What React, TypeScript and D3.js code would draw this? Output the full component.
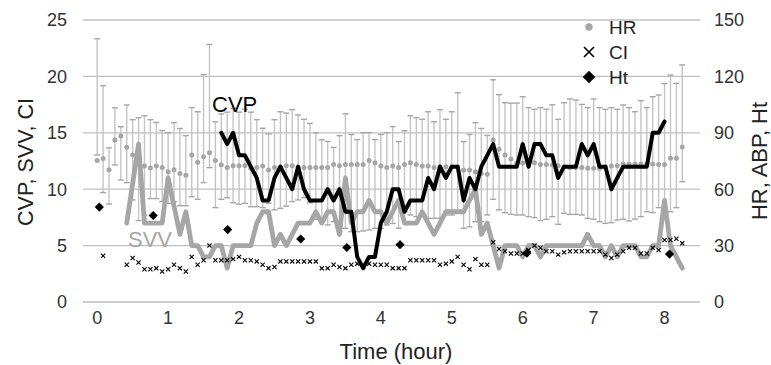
import React from "react";
import * as d3 from "d3";

// 5-minute samples, index i -> time i*5 min
const STEP_HOURS = 5 / 60;

const HR = [75.2,76.3,70.3,86.2,88.3,82.3,78.2,74,72.4,71.3,
72.4,71.5,69.3,70.4,68.4,67.4,78.2,74.3,77.3,79.4,
75.2,73,71.5,72.5,72.5,72.5,71.1,71.5,72.3,70.2,
71.5,71.5,72.5,72.5,71.5,71.5,71.5,71.5,71.5,71.5,
73.2,72.5,73.2,73.2,73.2,73.2,75.2,74.1,72.3,71.5,
72.3,71.5,73.2,74.1,73.2,72.3,72.3,71.5,72,72,
72,72,70.2,70.2,69.3,68.4,68,86.2,81.2,78.2,
76,74,74,74,74.1,73.2,73.2,73,72.5,72,
71.5,71.5,71.5,71.1,71.1,71.1,72,72.3,72.5,73.4,
73.4,73.4,73.4,73.4,73.4,73.2,73.2,76.4,76.4,82.4];

const ABP_SYS = [140,115,82,103.3,93.2,104.8,97,98,99.1,97,
95.5,91.2,90,95.4,92.3,88.5,103.4,101.2,121,137,
95.8,100,101,103,101,102.5,101,97,92.4,89.4,
97,101.2,100.5,102.3,99.5,97.2,95,90,86.3,85.4,
82.2,88.5,100.1,89.1,86.4,90.1,90.1,86.4,89.1,90.1,
93.3,85.3,91.1,99.1,98,97.2,101.2,95.9,102.3,97.2,
101.2,111.3,85.3,89.1,95.4,92.3,88.6,118.2,110.3,106,
105.8,105.8,109.2,103.4,102.5,103.4,102.5,104.9,97.2,106,
108,107.4,105.1,103.4,108,103.4,102.5,103.4,102.5,104.8,
103.4,101.2,107.1,103.4,109.2,110.1,116.2,120.7,116.3,126.1];

const ABP_DIA = [78.2,58.2,52.1,72.9,64.9,63.5,54.3,43.3,46.3,55,
55,53.4,52.5,53.4,51.2,51.2,56,54.6,63.5,71.5,
50.2,54.6,55.5,52.8,52,52.5,50.7,50.7,50.2,52.5,
49,49.8,51,53.4,54.3,55.5,52.8,44,43.6,41,
42.7,37.4,39.2,37.4,37.4,37.8,38.3,39.2,39.2,41,
41.8,39.2,48,46.3,45.4,45.4,44.5,44.5,44.5,46.3,
46.3,48,39.2,40,42.7,42.7,46.3,54.6,49,47.5,
46.6,46.3,46.3,45.4,44.9,43.3,44,45.4,41.3,47.2,
46.6,46.6,46.3,44.5,44,42.7,41.8,42.2,43.6,44,
43.1,44.1,45.4,48,47.5,50.2,47.5,48,50.2,64];

const N = null;
const CVP = [N,N,N,N,N,N,N,N,N,N,
N,N,N,N,N,N,N,N,N,N,
N,15,14,15,13,13,12,11,9,9,
11,12,11,10,12,10,9,9,9,10,
9,10,8,8,4,3,4,4,7,8,
10,10,8,9,9,9,11,10,12,11,
12,12,9,11,10,12,13,14,12,12,
12,12,14,12,14,14,13,13,11,12,
12,12,14,13,14,12,12,10,11,12,
12,12,12,12,15,15,16,N,N,N];

const SVV = [N,N,N,N,N,7,10.5,14,7,7,
7,7,11,8.5,6,8,5,5,4,4,
5,5,3,5,5,5,5,7,8,8,
5,6,5,6,7,7,7,8,7,8,
8,6,11,7,8,8,9,8,8,7,
8,9,7,7,7,8,7,6,7,8,
8,8,8,9,10,6,7,5,3,5,
5,5,4,5,5,4,5,5,5,5,
5,5,5,6,5,5,4,5,4,5,
5,5,4,4,5,5,9,5,4,3];

const CI = [N,4.1,N,N,N,3.3,3.9,3.5,2.9,2.9,
3.0,2.7,2.9,3.3,3.0,2.7,4.0,3.3,3.7,5.0,
3.7,3.7,3.7,3.8,4.0,3.7,3.7,3.6,3.3,3.0,
3.1,3.6,3.6,3.6,3.6,3.6,3.6,3.6,3.0,3.0,
3.3,3.1,3.0,3.3,3.4,3.1,3.4,3.3,3.3,3.3,
3.0,3.0,3.0,3.7,3.7,3.7,3.7,3.7,3.3,3.4,
3.6,4.0,3.3,2.9,3.8,3.3,3.3,5.3,4.7,4.5,
4.3,4.3,4.3,4.6,5.0,4.8,4.5,4.5,4.2,4.4,
4.5,4.5,4.5,4.5,4.5,4.5,4.2,3.9,4.2,4.5,
4.8,4.8,4.3,4.3,4.8,4.6,5.5,5.5,5.6,5.2];

const HT_TIME = [0.03, 0.79, 1.84, 2.87, 3.52, 4.27, 6.06, 8.07];
const HT = [50.5, 46, 38.5, 33.5, 29, 30.5, 26, 25.5];

const X_TICKS = [0, 1, 2, 3, 4, 5, 6, 7, 8];
const LEFT_TICKS = [0, 5, 10, 15, 20, 25];
const RIGHT_TICKS = [0, 30, 60, 90, 120, 150];

const FONT = "'Liberation Sans', Arial, Helvetica, sans-serif";
const TIMES = HR.map((_, i) => i * STEP_HOURS);

export default function App() {
  const W = 771, H = 365;
  const x = d3.scaleLinear().domain([-0.2, 8.5]).range([83, 700]);
  const yL = d3.scaleLinear().domain([0, 25]).range([302, 20]);
  const yR = d3.scaleLinear().domain([0, 150]).range([302, 20]);

  const lineL = d3
    .line<number | null>()
    .defined((d) => d != null)
    .x((_, i) => x(TIMES[i]))
    .y((d) => yL(d as number));

  const cvpPath = lineL(CVP) || "";
  const svvPath = lineL(SVV) || "";

  const tickColor = "#333";
  const gridColor = "#bfbfbf";
  const grayMark = "#a6a6a6";

  const diamond = (cx: number, cy: number, r: number) =>
    `M${cx},${cy - r}L${cx + r},${cy}L${cx},${cy + r}L${cx - r},${cy}Z`;
  const cross = (cx: number, cy: number, r: number) =>
    `M${cx - r},${cy - r}L${cx + r},${cy + r}M${cx - r},${cy + r}L${cx + r},${cy - r}`;

  return (
    <svg
      width={W}
      height={H}
      style={{ position: "absolute", left: 0, top: 0, background: "#fff" }}
      fontFamily={FONT}
    >
      <rect width={W} height={H} fill="#fff" />
      {/* gridlines */}
      {LEFT_TICKS.map((t) => (
        <line key={"g" + t} x1={83} x2={700} y1={yL(t)} y2={yL(t)} stroke={gridColor} strokeWidth={1.3} />
      ))}
      {/* left tick labels */}
      {LEFT_TICKS.map((t) => (
        <text key={"l" + t} x={67} y={yL(t)} dy="0.35em" textAnchor="end" fontSize={18} fill={tickColor}>
          {t}
        </text>
      ))}
      {/* right tick labels */}
      {RIGHT_TICKS.map((t) => (
        <text key={"r" + t} x={714} y={yR(t)} dy="0.35em" textAnchor="start" fontSize={18} fill={tickColor}>
          {t}
        </text>
      ))}
      {/* x tick labels */}
      {X_TICKS.map((t) => (
        <text key={"x" + t} x={x(t)} y={323.5} textAnchor="middle" fontSize={18} fill={tickColor}>
          {t}
        </text>
      ))}
      {/* ABP bars */}
      {ABP_SYS.map((s, i) => {
        const cx = x(TIMES[i]);
        const top = yR(s);
        const bot = yR(ABP_DIA[i]);
        return (
          <g key={"b" + i}>
            <line x1={cx} x2={cx} y1={top} y2={bot} stroke="#c4c4c4" strokeWidth={1.4} />
            <line x1={cx - 3} x2={cx + 3} y1={top} y2={top} stroke={grayMark} strokeWidth={1.4} />
            <line x1={cx - 3} x2={cx + 3} y1={bot} y2={bot} stroke={grayMark} strokeWidth={1.4} />
          </g>
        );
      })}
      {/* HR dots */}
      {HR.map((v, i) => (
        <circle key={"h" + i} cx={x(TIMES[i])} cy={yR(v)} r={2.5} fill={grayMark} />
      ))}
      {/* SVV */}
      <path d={svvPath} fill="none" stroke={grayMark} strokeWidth={4.8} strokeLinejoin="round" strokeLinecap="round" />
      {/* CVP */}
      <path d={cvpPath} fill="none" stroke="#000" strokeWidth={4} strokeLinejoin="round" strokeLinecap="round" />
      {/* CI crosses */}
      {CI.map((v, i) =>
        v == null ? null : (
          <path key={"c" + i} d={cross(x(TIMES[i]), yL(v), 2.1)} stroke="#000" strokeWidth={1.1} fill="none" />
        )
      )}
      {/* Ht diamonds */}
      {HT.map((v, i) => (
        <path key={"d" + i} d={diamond(x(HT_TIME[i]), yR(v), 4.6)} fill="#000" />
      ))}
      {/* series labels */}
      <text x={212} y={112} fontSize={22} fill="#000">CVP</text>
      <text x={128} y={246.5} fontSize={22} fill={grayMark}>SVV</text>
      {/* legend */}
      <circle cx={589} cy={27} r={3.7} fill={grayMark} />
      <text x={609} y={27} dy="0.36em" fontSize={19} fill="#222">HR</text>
      <path d={cross(589, 52, 5)} stroke="#000" strokeWidth={1.6} fill="none" />
      <text x={609} y={52} dy="0.36em" fontSize={19} fill="#222">CI</text>
      <path d={diamond(589, 77, 6.3)} fill="#000" />
      <text x={609} y={77} dy="0.36em" fontSize={19} fill="#222">Ht</text>
      {/* axis titles */}
      <text transform="translate(33,162) rotate(-90)" textAnchor="middle" fontSize={21.5} fill="#222">
        CVP, SVV, CI
      </text>
      <text transform="translate(767,161) rotate(-90)" textAnchor="middle" fontSize={22} fill="#222">
        HR, ABP, Ht
      </text>
      <text x={396} y={359} textAnchor="middle" fontSize={22} fill="#222">
        Time (hour)
      </text>
    </svg>
  );
}
